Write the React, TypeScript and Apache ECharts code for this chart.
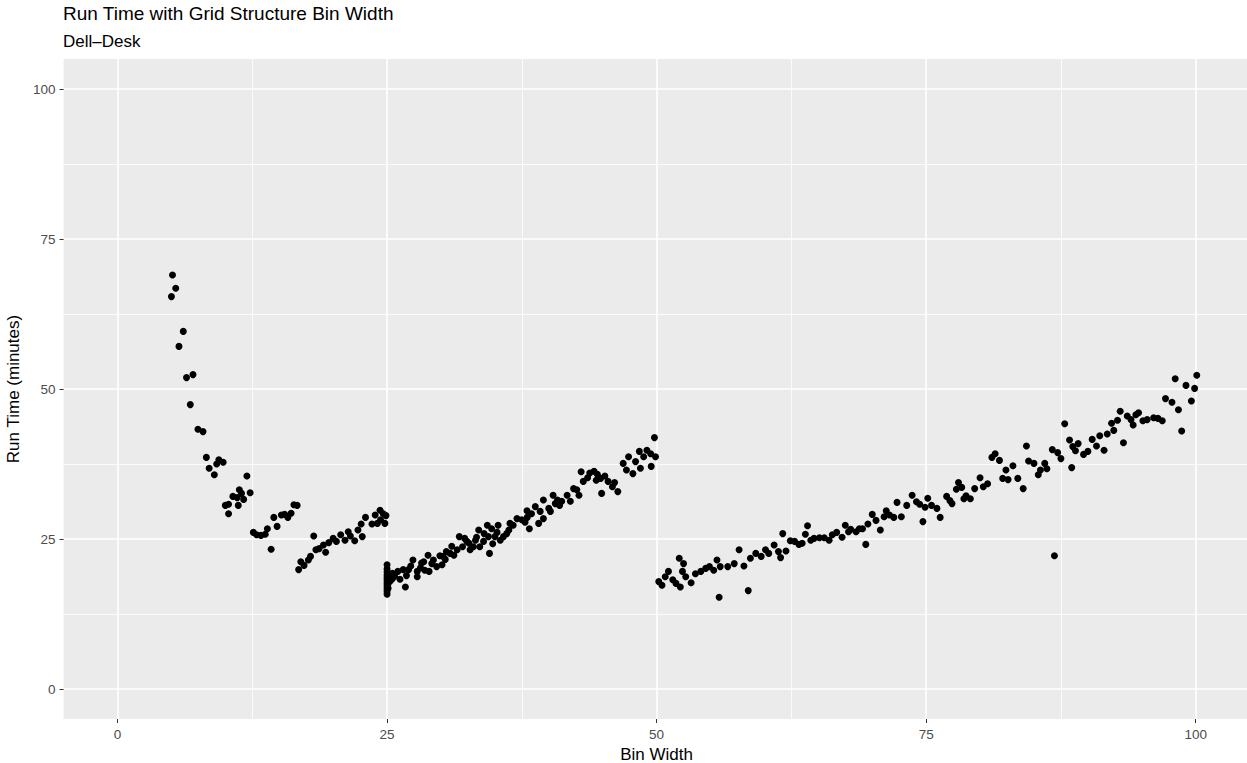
import React, { useEffect, useRef } from "react";
import * as echarts from "echarts";

// Segment 1: small bin widths (5 – 16.7)
const binWidthA = [
  5.0, 5.1, 5.4, 5.7, 6.1, 6.4, 6.75, 7.0, 7.46, 7.93, 8.24, 8.5, 8.98, 9.2, 9.4, 9.8,
  10.0, 10.3, 10.3, 10.7, 11.1, 11.2, 11.3, 11.5, 11.7, 12.0, 12.3, 12.6, 12.9, 13.3,
  13.7, 13.9, 14.25, 14.5, 14.8, 15.2, 15.5, 15.8, 16.1, 16.36, 16.66,
];
const runTimeA = [
  65.4, 69.0, 66.8, 57.1, 59.6, 51.9, 47.4, 52.4, 43.3, 42.9, 38.6, 36.8, 35.7, 37.5, 38.2, 37.8,
  30.6, 30.8, 29.2, 32.1, 31.9, 30.6, 33.2, 32.6, 31.6, 35.5, 32.7, 26.1, 25.7, 25.6,
  25.8, 26.7, 23.3, 28.6, 27.1, 29.0, 29.1, 28.6, 29.3, 30.7, 30.6,
];

// Segment 2: bin widths 16.8 – 50
const binWidthB = [
  16.8, 17.0, 17.3, 17.7, 17.9, 18.2, 18.4, 18.7, 19.1, 19.3, 19.6, 20.0, 20.3, 20.7, 21.1,
  21.4, 21.6, 22.0, 22.3, 22.6, 22.7, 23.0, 23.6, 23.9, 24.1, 24.35, 24.4, 24.65, 24.8, 24.9,
  25.0, 25.0, 25.0, 25.0, 25.0, 25.0, 25.0, 25.0, 25.0, 25.0, 25.0, 25.0,
  25.1, 25.1, 25.1, 25.1, 25.3, 25.3, 25.5, 25.5, 25.7,
  26.0, 26.2, 26.5, 26.7, 26.8, 27.0, 27.2, 27.4, 27.8, 27.8, 28.1, 28.2, 28.4, 28.5, 28.8,
  28.9, 29.15, 29.3, 29.6, 29.9, 30.1, 30.2, 30.4, 30.5, 30.85, 31.0, 31.2, 31.5, 31.7, 32.0,
  32.2, 32.4, 32.6, 32.7, 33.0, 33.2, 33.3, 33.5, 33.6, 33.95, 34.0, 34.3, 34.4, 34.5, 34.7,
  34.8, 35.0, 35.2, 35.3, 35.5, 35.8, 36.1, 36.3, 36.4, 36.7, 37.05, 37.5, 37.8, 37.98, 38.0,
  38.2, 38.4, 38.75, 39.06, 39.2, 39.5, 39.5, 40.0, 40.15, 40.4, 40.6, 40.8, 41.0, 41.2, 41.7,
  42.0, 42.3, 42.6, 42.8, 43.0, 43.2, 43.6, 43.8, 44.2, 44.4, 44.5, 44.8, 44.9, 45.2, 45.5,
  45.9, 46.1, 46.4, 46.9, 47.2, 47.4, 47.8, 48.05, 48.4, 48.5, 48.8, 49.1, 49.45, 49.5, 49.8, 49.9,
];
const runTimeB = [
  19.9, 21.2, 20.6, 21.5, 22.1, 25.5, 23.2, 23.4, 24.0, 22.8, 24.4, 25.1, 24.6, 25.7, 24.8,
  26.2, 25.5, 24.7, 26.5, 27.5, 25.4, 28.6, 27.5, 29.0, 27.6, 29.8, 28.2, 29.2, 27.6, 28.9,
  20.7, 20.0, 19.5, 19.0, 18.6, 18.2, 17.8, 17.4, 17.0, 16.6, 16.2, 15.8,
  19.2, 18.4, 17.6, 16.8, 18.9, 18.0, 18.4, 19.3, 18.8,
  19.6, 18.3, 19.9, 17.0, 18.9, 19.9, 20.5, 21.5, 19.6, 18.7, 20.2, 21.0, 21.2, 19.8, 22.3,
  19.6, 20.9, 21.5, 20.4, 22.2, 20.7, 22.1, 21.6, 22.9, 22.6, 23.8, 22.3, 23.2, 25.4, 23.7,
  25.1, 24.6, 24.3, 23.2, 23.7, 24.8, 25.3, 26.5, 23.7, 24.6, 25.9, 27.3, 25.4, 22.6, 26.7,
  24.2, 25.4, 26.1, 27.3, 24.8, 25.4, 25.9, 26.5, 27.6, 27.3, 28.4, 28.2, 27.8, 29.7, 28.6,
  26.7, 29.2, 30.4, 27.6, 29.6, 28.4, 31.5, 30.1, 29.6, 32.3, 30.9, 31.5, 30.6, 31.3, 32.3,
  31.3, 33.4, 33.2, 32.3, 36.2, 34.6, 35.2, 36.0, 36.3, 34.8, 35.8, 35.1, 32.6, 35.5, 34.6,
  33.7, 34.4, 32.9, 37.6, 36.5, 38.7, 35.9, 37.9, 39.6, 36.8, 38.7, 39.8, 39.2, 37.1, 41.9, 38.7,
];

// Segment 3: bin widths 50 – 100
const binWidthC = [
  50.2, 50.5, 50.8, 51.1, 51.5, 51.8, 52.1, 52.2, 52.4, 52.5, 52.7, 53.2, 53.6, 54.1, 54.55,
  54.9, 55.3, 55.6, 55.8, 55.9, 56.6, 57.2, 57.65, 58.1, 58.5, 58.7, 59.2, 59.7, 60.1, 60.4,
  60.9, 61.3, 61.5, 61.7, 62.0, 62.4, 62.8, 63.2, 63.5, 63.8, 64.0, 64.3, 64.6, 65.1, 65.55,
  66.0, 66.3, 66.7, 67.2, 67.5, 67.8, 68.0, 68.5, 68.8, 69.1, 69.4, 69.6, 70.0, 70.35, 70.75,
  71.1, 71.3, 71.6, 72.0, 72.3, 72.7, 73.2, 73.7, 74.1, 74.4, 74.7, 74.9, 75.15, 75.5, 76.0,
  76.3, 76.9, 77.2, 77.4, 77.8, 78.0, 78.3, 78.5, 78.7, 79.1, 79.5, 80.0, 80.3, 80.7, 81.1,
  81.4, 81.8, 82.1, 82.4, 82.6, 83.05, 83.5, 84.0, 84.3, 84.5, 85.0, 85.4, 85.6, 86.0, 86.2,
  86.7, 86.9, 87.2, 87.5, 87.85, 88.3, 88.5, 88.6, 88.85, 89.1, 89.6, 90.0, 90.4, 90.8, 91.1,
  91.5, 91.8, 92.2, 92.4, 92.75, 93.0, 93.3, 93.65, 94.0, 94.2, 94.45, 94.7, 95.1, 95.5, 96.1,
  96.5, 96.9, 97.2, 97.8, 98.1, 98.4, 98.7, 99.1, 99.6, 99.9, 100.1,
];
const runTimeC = [
  17.9, 17.3, 18.7, 19.6, 18.2, 17.6, 21.8, 17.0, 19.6, 20.9, 18.7, 17.7, 19.2, 19.6, 20.1,
  20.4, 19.8, 21.5, 15.3, 20.4, 20.4, 20.9, 23.2, 20.5, 16.4, 21.8, 22.6, 22.1, 23.2, 22.6,
  24.0, 22.9, 21.9, 25.9, 23.0, 24.7, 24.6, 24.1, 24.3, 25.8, 27.2, 24.8, 25.1, 25.2, 25.2,
  24.8, 25.7, 26.1, 25.3, 27.3, 26.2, 26.6, 26.2, 26.7, 26.7, 24.1, 27.5, 29.1, 28.1, 26.5,
  28.7, 29.7, 29.0, 28.6, 31.1, 28.7, 30.6, 32.3, 31.2, 30.8, 27.9, 30.3, 31.8, 30.6, 30.1,
  28.6, 32.1, 31.4, 30.9, 33.3, 34.4, 33.6, 31.7, 32.2, 31.7, 33.4, 35.2, 33.7, 34.2, 38.6,
  39.2, 38.1, 35.1, 36.5, 34.9, 37.2, 35.1, 33.4, 40.5, 38.0, 37.6, 35.7, 36.5, 37.6, 36.7,
  39.9, 22.2, 39.4, 38.4, 44.2, 41.5, 36.9, 40.4, 39.7, 40.9, 39.1, 39.6, 41.6, 40.5, 42.2,
  39.8, 42.5, 44.3, 43.1, 44.8, 46.3, 41.05, 45.5, 44.9, 44.0, 45.7, 46.05, 44.7, 44.9, 45.2,
  45.1, 44.7, 48.4, 47.8, 51.7, 46.55, 43.0, 50.6, 48.0, 50.1, 52.3,
];

const xMajor = [0, 25, 50, 75, 100];
const yMajor = [0, 25, 50, 75, 100];
const xMinor = [12.5, 37.5, 62.5, 87.5];
const yMinor = [12.5, 37.5, 62.5, 87.5];

const FONT = "'Liberation Sans', Arial, Helvetica, sans-serif";

export default function App() {
  const ref = useRef<HTMLDivElement>(null);

  useEffect(() => {
    if (!ref.current) return;
    const chart = echarts.init(ref.current, null, { renderer: "svg" });

    const points: number[][] = [];
    const add = (xs: number[], ys: number[]) => {
      for (let i = 0; i < Math.min(xs.length, ys.length); i++) points.push([xs[i], ys[i]]);
    };
    add(binWidthA, runTimeA);
    add(binWidthB, runTimeB);
    add(binWidthC, runTimeC);

    const gridLines = [
      ...xMinor.map((v) => ({ xAxis: v, lineStyle: { width: 0.8 } })),
      ...yMinor.map((v) => ({ yAxis: v, lineStyle: { width: 0.8 } })),
      ...xMajor.map((v) => ({ xAxis: v, lineStyle: { width: 1.6 } })),
      ...yMajor.map((v) => ({ yAxis: v, lineStyle: { width: 1.6 } })),
    ];

    const axisCommon = {
      type: "value" as const,
      min: -5,
      max: 105,
      nameLocation: "middle" as const,
      nameTextStyle: { fontFamily: FONT, fontSize: 17, color: "#000000" },
      axisLine: { show: false, onZero: false },
      splitLine: { show: false },
      z: 10,
    };

    chart.setOption({
      animation: false,
      backgroundColor: "#ffffff",
      textStyle: { fontFamily: FONT },
      title: [
        {
          text: "Run Time with Grid Structure Bin Width",
          left: 63,
          top: 4,
          padding: 0,
          textStyle: { fontFamily: FONT, fontSize: 19, fontWeight: "normal", color: "#000000" },
        },
        {
          text: "Dell–Desk",
          left: 63,
          top: 33,
          padding: 0,
          textStyle: { fontFamily: FONT, fontSize: 17, fontWeight: "normal", color: "#000000" },
        },
      ],
      grid: {
        left: 63.6,
        top: 59,
        width: 1186,
        height: 660,
        show: true,
        backgroundColor: "#EBEBEB",
        borderWidth: 0,
        containLabel: false,
        outerBoundsMode: "none",
        z: 0,
      },
      xAxis: {
        ...axisCommon,
        name: "Bin Width",
        nameGap: 24,
        axisTick: { show: true, length: 4, customValues: xMajor, lineStyle: { color: "#333333", width: 1 } },
        axisLabel: { customValues: xMajor, color: "#4D4D4D", fontSize: 13.5, margin: 8, fontFamily: FONT },
      },
      yAxis: {
        ...axisCommon,
        name: "Run Time (minutes)",
        nameGap: 33,
        nameRotate: 90,
        axisTick: { show: true, length: 4, customValues: yMajor, lineStyle: { color: "#333333", width: 1 } },
        axisLabel: { customValues: yMajor, color: "#4D4D4D", fontSize: 13.5, margin: 8, fontFamily: FONT },
      },
      series: [
        {
          type: "scatter",
          data: [],
          z: 1,
          silent: true,
          markLine: {
            z: 1,
            silent: true,
            symbol: ["none", "none"],
            label: { show: false },
            lineStyle: { color: "#ffffff", type: "solid" },
            emphasis: { disabled: true },
            animation: false,
            data: gridLines,
          },
        },
        {
          type: "scatter",
          data: points,
          z: 5,
          symbol: "circle",
          symbolSize: 7,
          itemStyle: { color: "#000000", opacity: 1 },
        },
      ],
    });

    return () => chart.dispose();
  }, []);

  return (
    <div
      ref={ref}
      style={{ position: "fixed", left: 0, top: 0, width: 1247, height: 763 }}
    />
  );
}
